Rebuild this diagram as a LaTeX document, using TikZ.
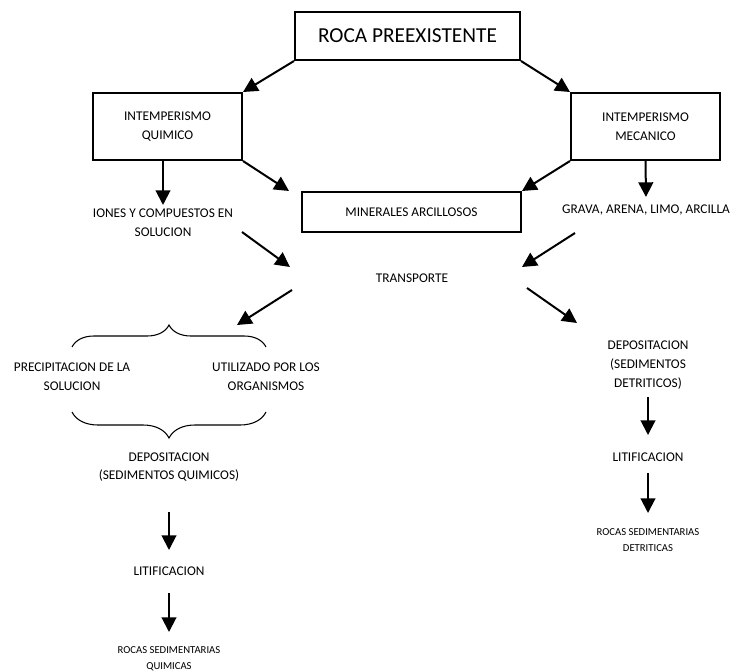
\documentclass[tikz,border=0pt]{standalone}
\usepackage{fontspec}
\setmainfont{Carlito}
\usetikzlibrary{arrows.meta}
\usetikzlibrary{decorations.pathreplacing}

\begin{document}
\begin{tikzpicture}[x=0.75pt,y=-0.75pt,
  caja/.style={draw, line width=1.5pt, align=center, inner sep=0pt},
  txt/.style={align=center, inner sep=0pt, font=\fontsize{10}{14}\selectfont},
  chico/.style={align=center, inner sep=0pt, font=\fontsize{8}{12}\selectfont},
  flecha/.style={line width=1.5pt, -{Triangle[length=11pt,width=11pt]}},
  llave/.style={line width=0.8pt, decorate, decoration={brace, amplitude=16.5pt, raise=22.5pt}}]
  \useasboundingbox (0,0) rectangle (734,671);
  % cajas
  \node[caja, font=\fontsize{16}{19}\selectfont, minimum width=168.75pt, minimum height=36pt] (Roca) at (407.5,36) {ROCA PREEXISTENTE};
  \node[caja, txt, minimum width=111.75pt, minimum height=50.25pt] (Quimico) at (167.5,126.5) {INTEMPERISMO\\QUIMICO};
  \node[caja, txt, minimum width=111.75pt, minimum height=50.25pt] (Mecanico) at (645.5,126.5) {INTEMPERISMO\\MECANICO};
  \node[caja, txt, minimum width=164.25pt, minimum height=30pt] (Minerales) at (411.5,212) {MINERALES ARCILLOSOS};
  % textos
  \node[txt] (Iones) at (163,223) {IONES Y COMPUESTOS EN\\SOLUCION};
  \node[txt] (Grava) at (646,210) {GRAVA, ARENA, LIMO, ARCILLA};
  \node[txt] (Transporte) at (412,278) {TRANSPORTE};
  \node[txt] (Precip) at (72,377) {PRECIPITACION DE LA\\SOLUCION};
  \node[txt] (Util) at (266,377) {UTILIZADO POR LOS\\ORGANISMOS};
  \node[txt] (DepQ) at (169,467) {DEPOSITACION\\(SEDIMENTOS QUIMICOS)};
  \node[txt] (LitQ) at (169,571) {LITIFICACION};
  \node[chico] (RocQ) at (169,659) {ROCAS SEDIMENTARIAS\\QUIMICAS};
  \node[txt] (DepD) at (648,365) {DEPOSITACION\\(SEDIMENTOS\\DETRITICOS)};
  \node[txt] (LitD) at (648,457) {LITIFICACION};
  \node[chico] (RocD) at (648,540) {ROCAS SEDIMENTARIAS\\DETRITICAS};
  % flechas
  \draw[flecha] (Roca.south west) -- (Quimico.north east);
  \draw[flecha] (Roca.south east) -- (Mecanico.north west);
  \draw[flecha] (Quimico.south east) -- ([xshift=-9pt]Minerales.north west);
  \draw[flecha] (Mecanico.south west) -- (Minerales.north east);
  \draw[flecha] (Quimico.south -| Iones.north) -- ([shift={(0,-18)}]Iones.center);
  \draw[flecha] (Mecanico.south) -- ([shift={(0,-13)}]Grava.center);
  \draw[flecha] ([shift={(79,9)}]Iones.center) -- ([shift={(-122,-11)}]Transporte.center);
  \draw[flecha] ([shift={(-71,23)}]Grava.center) -- ([shift={(110,-11)}]Transporte.center);
  \draw[flecha] ([shift={(-120,12)}]Transporte.center) -- ([shift={(-29,-52)}]Util.center);
  \draw[flecha] ([shift={(115,10)}]Transporte.center) -- ([shift={(-71,-42)}]DepD.center);
  \draw[flecha] ([shift={(0,45)}]DepQ.center) -- ([shift={(0,-21)}]LitQ.center);
  \draw[flecha] ([shift={(0,22)}]LitQ.center) -- ([shift={(0,-27)}]RocQ.center);
  \draw[flecha] ([shift={(0,32)}]DepD.center) -- ([shift={(0,-22)}]LitD.center);
  \draw[flecha] ([shift={(0,16)}]LitD.center) -- ([shift={(0,-27)}]RocD.center);
  % llaves
  \draw[llave] (Precip.center) -- (Util.center);
  \draw[llave, decoration={amplitude=19.5pt, raise=26.25pt}] (Util.center) -- (Precip.center);
\end{tikzpicture}
\end{document}
